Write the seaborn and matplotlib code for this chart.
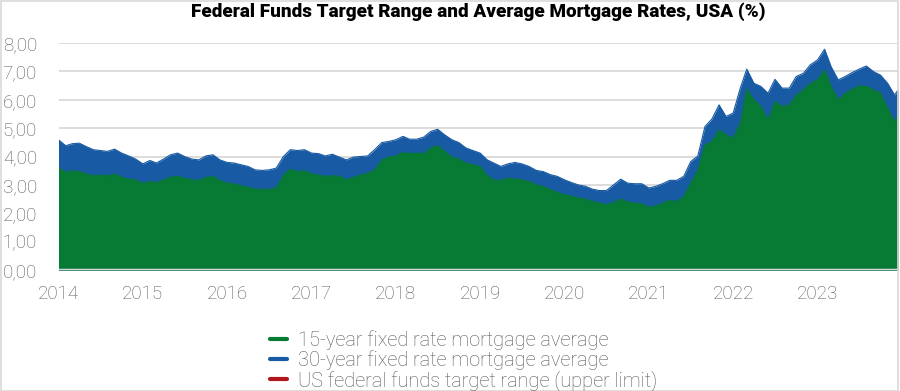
import numpy as np
import pandas as pd
import matplotlib
matplotlib.use("Agg")
import matplotlib.pyplot as plt
import seaborn as sns
from matplotlib.lines import Line2D
from matplotlib.ticker import FuncFormatter

# Werte (monatlich, Jan 2014 - Jan 2024)
months = pd.date_range("2014-01-01", periods=121, freq="MS")

rate_30y = [
    4.59, 4.38, 4.45, 4.47, 4.35, 4.24, 4.21, 4.18, 4.26, 4.12, 4.02, 3.91,
    3.74, 3.86, 3.77, 3.91, 4.06, 4.12, 4.00, 3.91, 3.88, 4.02, 4.06, 3.88,
    3.79, 3.77, 3.71, 3.65, 3.53, 3.51, 3.53, 3.59, 4.00, 4.24, 4.21, 4.24,
    4.12, 4.10, 4.02, 4.08, 3.98, 3.88, 3.98, 4.00, 4.02, 4.24, 4.49, 4.53,
    4.59, 4.71, 4.61, 4.61, 4.68, 4.88, 4.96, 4.76, 4.59, 4.49, 4.30, 4.21,
    4.12, 3.88, 3.77, 3.65, 3.74, 3.79, 3.74, 3.65, 3.51, 3.47, 3.36, 3.30,
    3.18, 3.08, 3.00, 2.95, 2.85, 2.80, 2.80, 3.00, 3.20, 3.06, 3.04, 3.04,
    2.89, 2.95, 3.04, 3.16, 3.16, 3.30, 3.82, 4.02, 5.06, 5.32, 5.82, 5.41,
    5.53, 6.41, 7.08, 6.58, 6.47, 6.23, 6.72, 6.41, 6.41, 6.82, 6.93, 7.23,
    7.40, 7.78, 7.17, 6.70, 6.82, 6.96, 7.08, 7.19, 6.99, 6.87, 6.58, 6.17,
    6.52,
]

rate_15y = [
    3.61, 3.44, 3.50, 3.47, 3.39, 3.32, 3.35, 3.32, 3.39, 3.27, 3.20, 3.18,
    3.06, 3.12, 3.08, 3.18, 3.27, 3.30, 3.23, 3.18, 3.16, 3.26, 3.30, 3.15,
    3.06, 3.04, 2.97, 2.92, 2.85, 2.85, 2.85, 2.89, 3.35, 3.55, 3.47, 3.50,
    3.39, 3.35, 3.30, 3.32, 3.30, 3.18, 3.27, 3.35, 3.41, 3.53, 3.88, 3.98,
    4.02, 4.14, 4.10, 4.12, 4.10, 4.30, 4.38, 4.18, 3.98, 3.91, 3.77, 3.71,
    3.65, 3.32, 3.18, 3.16, 3.24, 3.20, 3.18, 3.12, 3.00, 2.95, 2.83, 2.74,
    2.65, 2.60, 2.54, 2.50, 2.42, 2.36, 2.30, 2.38, 2.50, 2.40, 2.36, 2.33,
    2.22, 2.26, 2.36, 2.45, 2.42, 2.59, 3.06, 3.53, 4.41, 4.53, 4.94, 4.76,
    4.65, 5.18, 6.37, 6.00, 5.76, 5.29, 5.94, 5.76, 5.82, 6.17, 6.35, 6.58,
    6.70, 7.05, 6.47, 6.00, 6.23, 6.37, 6.49, 6.47, 6.35, 6.23, 5.70, 5.23,
    5.67,
]

# Leitzins (Obergrenze), Änderungszeitpunkte
fed_dates = pd.to_datetime([
    "2014-01-01", "2015-12-17", "2016-12-15", "2017-03-16", "2017-06-15",
    "2017-12-14", "2018-03-22", "2018-06-14", "2018-09-27", "2018-12-20",
    "2019-08-01", "2019-09-19", "2019-10-31", "2020-03-04", "2020-03-16",
    "2022-03-17", "2022-05-05", "2022-06-16", "2022-07-28", "2022-09-22",
    "2022-11-03", "2022-12-15", "2023-02-02", "2023-03-23", "2023-05-04",
    "2023-07-27", "2024-01-01",
])
fed_upper = [
    0.25, 0.50, 0.75, 1.00, 1.25, 1.50, 1.75, 2.00, 2.25, 2.50,
    2.25, 2.00, 1.75, 1.25, 0.25, 0.50, 1.00, 1.75, 2.50, 3.25,
    4.00, 4.50, 4.75, 5.00, 5.25, 5.50, 5.50,
]

years = list(range(2014, 2024))
yticks = [0, 1, 2, 3, 4, 5, 6, 7, 8]

labels = [
    "15-year fixed rate mortgage average",
    "30-year fixed rate mortgage average",
    "US federal funds target range (upper limit)",
]

GREEN = "#077a34"
BLUE = "#185aa3"
RED = "#b0171c"
GRID = "#d9d9d9"
TEXT = "#595959"

sns.set_theme(style="white")
plt.rcParams["font.family"] = ["Roboto", "DejaVu Sans"]

df = pd.DataFrame({"date": months, "r30": rate_30y, "r15": rate_15y})

fig = plt.figure(figsize=(9, 3.91), dpi=100)
ax = fig.add_axes([58.5 / 900, 1 - 270 / 391, (898 - 58.5) / 900, (270 - 43) / 391])

# Reihenfolge: rot unten, dann blau, dann grün oben
ax.fill_between(fed_dates, fed_upper, step="post", color=RED, lw=0, zorder=2)
ax.fill_between(df["date"], df["r30"], color=BLUE, lw=0, zorder=3)
sns.lineplot(data=df, x="date", y="r30", color=BLUE, lw=0.8, ax=ax, zorder=3)
ax.fill_between(df["date"], df["r15"], color=GREEN, lw=0, zorder=4)
sns.lineplot(data=df, x="date", y="r15", color=GREEN, lw=0.8, ax=ax, zorder=4)

ax.set_xlim(pd.Timestamp("2014-01-01"), pd.Timestamp("2023-12-16"))
ax.set_ylim(0, 8)
ax.set_xlabel("")
ax.set_ylabel("")

ax.set_yticks(yticks)
ax.yaxis.set_major_formatter(FuncFormatter(lambda v, p: f"{v:.2f}".replace(".", ",")))
ax.set_xticks([pd.Timestamp(f"{y}-01-01") for y in years])
ax.set_xticklabels([str(y) for y in years])

ax.grid(axis="y", color=GRID, lw=1.3, zorder=0)
ax.grid(axis="x", visible=False)
ax.set_axisbelow(True)
for s in ax.spines.values():
    s.set_visible(False)
ax.axhline(0, color=GRID, lw=2.5, zorder=5)

ax.tick_params(axis="y", length=0, pad=15.5, labelsize=13.5, labelcolor=TEXT)
ax.tick_params(axis="x", length=0, pad=11, labelsize=13.5, labelcolor=TEXT)
for t in ax.get_yticklabels() + ax.get_xticklabels():
    t.set_fontweight("light")

fig.text(478 / 900, 1 - 12 / 391, "Federal Funds Target Range and Average Mortgage Rates, USA (%)",
         ha="center", va="center", fontsize=13.6, fontweight="heavy", color="black")

handles = [Line2D([], [], color=c, lw=3) for c in (GREEN, BLUE, RED)]
leg = fig.legend(handles, labels, loc="upper left", bbox_to_anchor=(270 / 900, 1 - 330.5 / 391),
                 frameon=False, borderpad=0, borderaxespad=0, handlelength=0.85,
                 handletextpad=0.55, labelspacing=0.0, fontsize=14.4)
for t in leg.get_texts():
    t.set_color(TEXT)
    t.set_fontweight("light")

# heller Rahmen um die Grafik
fig.patches.append(plt.Rectangle((0.001, 0.001), 0.997, 0.997, transform=fig.transFigure,
                                 fill=False, edgecolor=GRID, lw=1.2))

fig.savefig("out.png", dpi=100)
